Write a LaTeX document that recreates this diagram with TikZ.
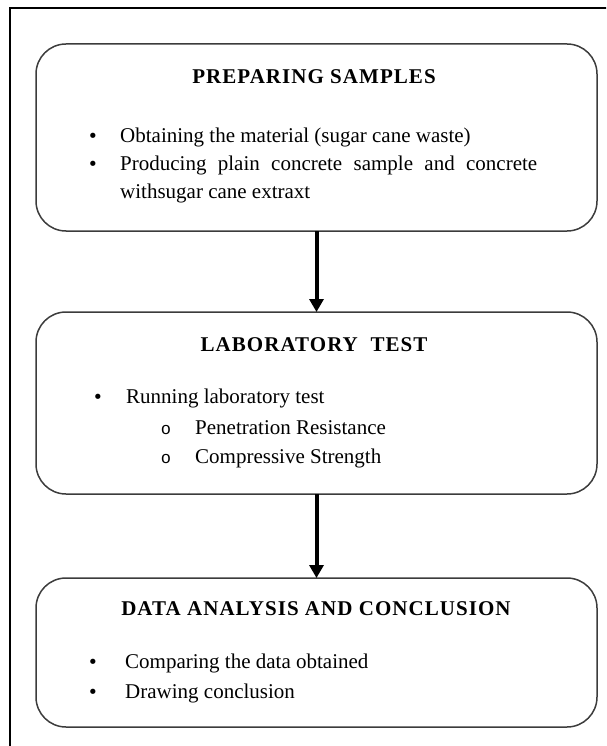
\documentclass[tikz,border=0pt]{standalone}
\usepackage{fontspec}
\setmainfont{Liberation Serif}
\setmonofont{Liberation Mono}
\newfontfamily\titlefont[LetterSpace=5]{Liberation Serif}
\newfontfamily\bulletfont{DejaVu Sans}
\usetikzlibrary{arrows.meta}
\definecolor{boxline}{HTML}{3C3C3C}
\tikzset{
  stage/.style={draw=boxline, line width=1.5pt, rounded corners=30pt,
    minimum width=561pt, inner sep=0pt, outer sep=0pt},
  txt/.style={anchor=base west, inner sep=0pt, font=\fontsize{21}{27}\selectfont},
  ttl/.style={anchor=base, inner sep=0pt, font=\fontsize{21}{27}\selectfont\titlefont\bfseries},
  bul/.style={anchor=base, inner sep=0pt, font=\fontsize{18}{27}\selectfont\bulletfont},
  sbul/.style={anchor=base, inner sep=0pt, font=\fontsize{17}{27}\selectfont\ttfamily},
  flow/.style={line width=4pt, -{Triangle[width=14pt,length=13pt]}}
}
\begin{document}
\begin{tikzpicture}[x=1pt,y=-1pt]
\useasboundingbox (0,0) rectangle (606,746);
\clip (0,0) rectangle (606,746);
\draw[line width=2pt] (10,8) rectangle (640,780);
% boxes
\node[stage, minimum height=187pt] (b1) at (316.5,137.5) {};
\node[stage, minimum height=182pt] (b2) at (316.5,403) {};
\node[stage, minimum height=149pt] (b3) at (316.5,652.5) {};
% arrows
\draw[flow] (b1.south) -- (b2.north);
\draw[flow] (b2.south) -- (b3.north);
% box 1
\node[ttl] (t1) at (314,84) {PREPARING SAMPLES};
\node[bul] (p1) at (93,143) {•};
\node[txt] (l1) at (120,143) {Obtaining the material (sugar cane waste)};
\node[bul] (p2) at (93,170.5) {•};
\node[txt] (l2) at (120,170.5) {\makebox[417pt][s]{Producing plain concrete sample and concrete}};
\node[txt] (l3) at (120,198) {withsugar cane extraxt};
% box 2
\node[ttl] (t2) at (314,351) {LABORATORY\ \ TEST};
\node[bul] (p3) at (98,403) {•};
\node[txt] (l4) at (126,403) {Running laboratory test};
\node[sbul] (s1) at (166,434) {o};
\node[txt] (l5) at (195,434) {Penetration Resistance};
\node[sbul] (s2) at (166,463) {o};
\node[txt] (l6) at (195,463) {Compressive\ Strength};
% box 3
\node[ttl] (t3) at (316,615) {DATA ANALYSIS AND CONCLUSION};
\node[bul] (p4) at (93,668) {•};
\node[txt] (l7) at (125,668) {Comparing the data obtained};
\node[bul] (p5) at (93,698) {•};
\node[txt] (l8) at (125,698) {Drawing conclusion};
\end{tikzpicture}
\end{document}
